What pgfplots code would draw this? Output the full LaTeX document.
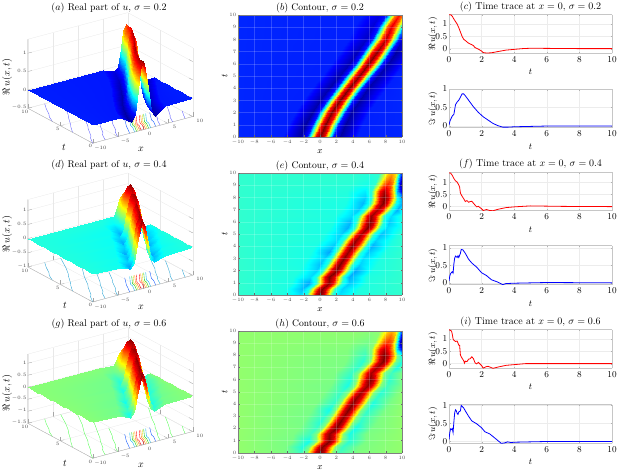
\documentclass[border=0pt]{standalone}
\usepackage{pgfplots}
\usepackage{pgfplotstable}
\pgfplotsset{compat=1.18}

% sigma = 0.2, ridge-following mesh: x t u
\pgfplotstableread{
x t u
-10 0 0
-4.5 0 -.01
-2.4 0 -.2
-1.6 0 -.02
-1 0 .62
-.5 0 1.15
0 0 1.38
.5 0 1.15
1 0 .62
1.6 0 -.02
2.4 0 -.2
4.5 0 -.01
10 0 0
-10 1 0
-3.9 1 -.01
-1.8 1 -.2
-1 1 -.02
-.4 1 .6
.1 1 1.1
.6 1 1.32
1.1 1 1.1
1.6 1 .6
2.2 1 -.02
3 1 -.2
5.1 1 -.01
10 1 0
-10 2 0
-3.1 2 -.01
-1 2 -.19
-.2 2 -.02
.4 2 .58
.9 2 1.08
1.4 2 1.3
1.9 2 1.08
2.4 2 .58
3 2 -.02
3.8 2 -.19
5.9 2 -.01
10 2 0
-10 3 0
-2.05 3 -.01
.05 3 -.18
.85 3 -.02
1.45 3 .6
1.95 3 1.1
2.45 3 1.32
2.95 3 1.1
3.45 3 .6
4.05 3 -.02
4.85 3 -.19
6.95 3 -.01
10 3 0
-10 4 0
-1 4 -.01
1.1 4 -.18
1.9 4 -.02
2.5 4 .58
3 4 1.08
3.5 4 1.3
4 4 1.08
4.5 4 .58
5.1 4 -.02
5.9 4 -.18
8 4 -.01
10 4 0
-10 5 0
.2 5 -.01
2.3 5 -.18
3.1 5 -.02
3.7 5 .56
4.2 5 1.05
4.7 5 1.28
5.2 5 1.05
5.7 5 .56
6.3 5 -.02
7.1 5 -.18
9.2 5 -.01
10 5 0
-10 6 0
1.4 6 -.01
3.5 6 -.17
4.3 6 -.02
4.9 6 .58
5.4 6 1.08
5.9 6 1.3
6.4 6 1.08
6.9 6 .58
7.5 6 -.02
8.3 6 -.18
10 6 -.03
10 6 0
-10 7 0
2.4 7 -.01
4.5 7 -.16
5.3 7 -.02
5.9 7 .58
6.4 7 1.08
6.9 7 1.28
7.4 7 1.08
7.9 7 .58
8.5 7 -.02
9.3 7 -.2
10 7 -.13
10 7 -.13
-10 8 0
3.5 8 -.01
5.6 8 -.14
6.4 8 -.02
7 8 .54
7.5 8 1.02
8 8 1.22
8.5 8 1.02
9 8 .54
9.6 8 -.02
10 8 -.12
10 8 -.12
10 8 -.12
-10 9 0
4.2 9 -.01
6.3 9 -.12
7.1 9 -.02
7.7 9 .52
8.2 9 .97
8.7 9 1.16
9.2 9 .97
9.7 9 .52
10 9 .26
10 9 .26
10 9 .26
10 9 .26
-10 10 0
5.1 10 -.01
7.2 10 -.1
8 10 -.02
8.6 10 .48
9.1 10 .9
9.6 10 1.08
10 10 .95
10 10 .95
10 10 .95
10 10 .95
10 10 .95
10 10 .95
}\dataA

% sigma = 0.4 and 0.6 share the mesh: x t u4 u6
\pgfplotstableread{
x t ua ub
-10 0 0 0
-4.6 0 -.04 -.05
-2.5 0 -.17 -.22
-1.7 0 -.03 -.03
-1.1 0 .62 .62
-.6 0 1.15 1.15
-.1 0 1.38 1.38
.4 0 1.15 1.15
.9 0 .62 .62
1.5 0 -.03 -.03
2.3 0 -.17 -.2
4.4 0 -.04 -.05
10 0 0 0
-10 .5 0 0
-4.25 .5 -.04 -.06
-2.15 .5 -.25 -.3
-1.35 .5 -.03 -.05
-.75 .5 .58 .58
-.25 .5 1.08 1.08
.25 .5 1.3 1.3
.75 .5 1.08 1.08
1.25 .5 .58 .58
1.85 .5 -.03 -.05
2.65 .5 -.2 -.24
4.75 .5 -.04 -.06
10 .5 0 0
-10 1 0 0
-3.4 1 -.05 -.07
-1.3 1 -.3 -.34
-.5 1 -.03 -.05
.1 1 .56 .58
.6 1 1.05 1.08
1.1 1 1.25 1.3
1.6 1 1.05 1.08
2.1 1 .56 .58
2.7 1 -.03 -.05
3.5 1 -.22 -.28
5.6 1 -.04 -.06
10 1 0 0
-10 1.5 0 0
-3.35 1.5 -.04 -.06
-1.25 1.5 -.18 -.22
-.45 1.5 -.03 -.05
.15 1.5 .58 .56
.65 1.5 1.08 1.05
1.15 1.5 1.3 1.25
1.65 1.5 1.08 1.05
2.15 1.5 .58 .56
2.75 1.5 -.03 -.05
3.55 1.5 -.28 -.32
5.65 1.5 -.04 -.06
10 1.5 0 0
-10 2 0 0
-2.6 2 -.04 -.06
-.5 2 -.2 -.24
.3 2 -.03 -.05
.9 2 .58 .58
1.4 2 1.08 1.08
1.9 2 1.3 1.3
2.4 2 1.08 1.08
2.9 2 .58 .58
3.5 2 -.03 -.05
4.3 2 -.3 -.34
6.4 2 -.05 -.07
10 2 0 0
-10 2.5 0 0
-2.05 2.5 -.05 -.07
.05 2.5 -.24 -.28
.85 2.5 -.03 -.05
1.45 2.5 .58 .58
1.95 2.5 1.08 1.08
2.45 2.5 1.3 1.3
2.95 2.5 1.08 1.08
3.45 2.5 .58 .58
4.05 2.5 -.03 -.05
4.85 2.5 -.2 -.26
6.95 2.5 -.04 -.06
10 2.5 0 0
-10 3 0 0
-1.6 3 -.05 -.07
.5 3 -.2 -.26
1.3 3 -.03 -.05
1.9 3 .57 .56
2.4 3 1.07 1.05
2.9 3 1.28 1.25
3.4 3 1.07 1.05
3.9 3 .57 .56
4.5 3 -.03 -.05
5.3 3 -.18 -.24
7.4 3 -.04 -.06
10 3 0 0
-10 3.5 0 0
-1.05 3.5 -.05 -.07
1.05 3.5 -.3 -.34
1.85 3.5 -.03 -.05
2.45 3.5 .56 .58
2.95 3.5 1.05 1.08
3.45 3.5 1.25 1.3
3.95 3.5 1.05 1.08
4.45 3.5 .56 .58
5.05 3.5 -.03 -.05
5.85 3.5 -.22 -.26
7.95 3.5 -.04 -.06
10 3.5 0 0
-10 4 0 0
-.55 4 -.05 -.06
1.55 4 -.22 -.26
2.35 4 -.03 -.05
2.95 4 .58 .58
3.45 4 1.08 1.08
3.95 4 1.3 1.3
4.45 4 1.08 1.08
4.95 4 .58 .58
5.55 4 -.03 -.05
6.35 4 -.28 -.32
8.45 4 -.05 -.07
10 4 0 0
-10 4.5 0 0
-.05 4.5 -.04 -.06
2.05 4.5 -.18 -.24
2.85 4.5 -.03 -.05
3.45 4.5 .56 .56
3.95 4.5 1.05 1.05
4.45 4.5 1.25 1.25
4.95 4.5 1.05 1.05
5.45 4.5 .56 .56
6.05 4.5 -.03 -.05
6.85 4.5 -.2 -.26
8.95 4.5 -.04 -.06
10 4.5 0 0
-10 5 0 0
.5 5 -.05 -.06
2.6 5 -.2 -.24
3.4 5 -.03 -.05
4 5 .54 .54
4.5 5 1.01 1.01
5 5 1.2 1.2
5.5 5 1.01 1.01
6 5 .54 .54
6.6 5 -.03 -.05
7.4 5 -.24 -.28
9.5 5 -.04 -.05
10 5 0 0
-10 5.5 0 0
1.25 5.5 -.05 -.07
3.35 5.5 -.28 -.32
4.15 5.5 -.03 -.05
4.75 5.5 .58 .56
5.25 5.5 1.08 1.05
5.75 5.5 1.3 1.25
6.25 5.5 1.08 1.05
6.75 5.5 .58 .56
7.35 5.5 -.03 -.05
8.15 5.5 -.18 -.22
10 5.5 -.04 -.05
10 5.5 0 0
-10 6 0 0
1.55 6 -.05 -.06
3.65 6 -.26 -.3
4.45 6 -.03 -.05
5.05 6 .6 .6
5.55 6 1.11 1.11
6.05 6 1.32 1.32
6.55 6 1.11 1.11
7.05 6 .6 .6
7.65 6 -.03 -.05
8.45 6 -.22 -.26
10 6 -.04 -.05
10 6 0 0
-10 6.5 0 0
1.7 6.5 -.04 -.06
3.8 6.5 -.18 -.24
4.6 6.5 -.03 -.05
5.2 6.5 .56 .54
5.7 6.5 1.05 1.01
6.2 6.5 1.25 1.2
6.7 6.5 1.05 1.01
7.2 6.5 .56 .54
7.8 6.5 -.03 -.05
8.6 6.5 -.18 -.22
10 6.5 -.03 -.05
10 6.5 0 0
-10 7 0 0
2.5 7 -.05 -.06
4.6 7 -.22 -.26
5.4 7 -.03 -.05
6 7 .54 .54
6.5 7 1.01 1.01
7 7 1.2 1.2
7.5 7 1.01 1.01
8 7 .54 .54
8.6 7 -.03 -.06
9.4 7 -.28 -.34
10 7 -.1 -.12
10 7 -.1 -.12
-10 7.5 0 0
3.15 7.5 -.05 -.06
5.25 7.5 -.26 -.28
6.05 7.5 -.03 -.05
6.65 7.5 .58 .58
7.15 7.5 1.09 1.09
7.65 7.5 1.3 1.3
8.15 7.5 1.09 1.09
8.65 7.5 .58 .58
9.25 7.5 -.05 -.08
10 7.5 -.28 -.3
10 7.5 -.28 -.3
10 7.5 -.28 -.3
-10 8 0 0
3.35 8 -.04 -.05
5.45 8 -.2 -.22
6.25 8 -.03 -.05
6.85 8 .6 .6
7.35 8 1.13 1.12
7.85 8 1.35 1.33
8.35 8 1.13 1.12
8.85 8 .6 .6
9.45 8 -.1 -.1
10 8 -.36 -.36
10 8 -.36 -.36
10 8 -.36 -.36
-10 8.5 0 0
3.35 8.5 -.03 -.04
5.45 8.5 -.14 -.16
6.25 8.5 -.02 -.04
6.85 8.5 .54 .52
7.35 8.5 1.01 .96
7.85 8.5 1.2 1.15
8.35 8.5 1.01 .96
8.85 8.5 .54 .45
9.45 8.5 -.3 -.5
10 8.5 -.8 -1.15
10 8.5 -.8 -1.15
10 8.5 -.8 -1.15
-10 9 0 0
3.65 9 -.02 -.03
5.75 9 -.06 -.08
6.55 9 -.01 -.02
7.15 9 .43 .38
7.65 9 .8 .71
8.15 9 .95 .85
8.65 9 .8 .71
9.15 9 .2 .1
9.75 9 -.75 -1.2
10 9 -.95 -1.4
10 9 -.95 -1.4
10 9 -.95 -1.4
-10 9.5 0 0
4 9.5 -.01 -.02
6.1 9.5 -.04 -.05
6.9 9.5 -.01 -.02
7.5 9.5 .36 .31
8 9.5 .67 .59
8.5 9.5 .8 .7
9 9.5 .6 .5
9.5 9.5 -.2 -.35
10 9.5 -.9 -1.35
10 9.5 -.9 -1.35
10 9.5 -.9 -1.35
10 9.5 -.9 -1.35
-10 10 0 0
4.3 10 -.01 -.01
6.4 10 -.02 -.03
7.2 10 0 -.01
7.8 10 .29 .22
8.3 10 .55 .42
8.8 10 .65 .5
9.3 10 .5 .35
9.8 10 -.3 -.5
10 10 -.7 -1.1
10 10 -.7 -1.1
10 10 -.7 -1.1
10 10 -.7 -1.1
}\dataB

% contour lines on the floor of the 3D panels: #1 floor height, #2 colour
\newcommand{\floorlines}[2]{
\addplot3[#2] coordinates {(-10,6.2,#1)(-9.2,7.3,#1)(-8.6,7.8,#1)(-7.6,9,#1)(-6.6,10,#1)};
\addplot3[#2] coordinates {(-10,3.1,#1)(-8.8,4.3,#1)(-8.3,4.7,#1)(-7,6,#1)(-6.2,6.7,#1)(-5,8,#1)(-3.4,10,#1)};
\addplot3[#2] coordinates {(-10,0,#1)(-9,1.1,#1)(-8.4,1.5,#1)(-7,3,#1)(-6.3,3.6,#1)(-4.9,5.2,#1)(-3,7,#1)(-.4,10,#1)};
\addplot3[#2] coordinates {(-7.5,0,#1)(-6.6,1.1,#1)(-6,1.5,#1)(-4.7,2.9,#1)(-4,3.5,#1)(-2.6,5,#1)(-.7,7,#1)(2.1,10,#1)};
\addplot3[#2] coordinates {(-5,0,#1)(-4.2,1,#1)(-3.6,1.4,#1)(-2.4,2.8,#1)(-1.8,3.3,#1)(-.3,5,#1)};
\addplot3[#2] coordinates {(3.5,0,#1)(4.3,1,#1)(4.8,1.4,#1)(6,2.7,#1)(6.6,3.2,#1)(7.8,4.6,#1)(10,6.8,#1)};
\addplot3[#2] coordinates {(6,0,#1)(6.8,1,#1)(7.3,1.4,#1)(8.5,2.6,#1)(10,4.2,#1)};
\addplot3[#2] coordinates {(8.5,0,#1)(9.2,.8,#1)(10,1.6,#1)};
\addplot3[blue!70!cyan] coordinates {(-2.6,0,#1)(-1.7,1,#1)(-1.3,1.5,#1)(.3,3,#1)};
\addplot3[cyan] coordinates {(-1.6,0,#1)(-.7,1,#1)(-.5,1.5,#1)(1.3,3,#1)};
\addplot3[green!80!black] coordinates {(-1.2,0,#1)(-.3,1,#1)(-.1,1.5,#1)(1.7,3,#1)};
\addplot3[yellow!90!black] coordinates {(-.9,0,#1)(0,1,#1)(.2,1.5,#1)(2,3,#1)};
\addplot3[orange] coordinates {(-.6,0,#1)(.3,1,#1)(.5,1.5,#1)(2.3,3,#1)};
\addplot3[red] coordinates {(-.3,0,#1)(.6,1,#1)(.8,1.5,#1)(2.6,3,#1)};
\addplot3[red] coordinates {(.3,0,#1)(1.2,1,#1)(1.4,1.5,#1)(3.2,3,#1)};
\addplot3[orange] coordinates {(.6,0,#1)(1.5,1,#1)(1.7,1.5,#1)(3.5,3,#1)};
\addplot3[yellow!90!black] coordinates {(.9,0,#1)(1.8,1,#1)(2,1.5,#1)(3.8,3,#1)};
\addplot3[green!80!black] coordinates {(1.2,0,#1)(2.1,1,#1)(2.3,1.5,#1)(4.1,3,#1)};
\addplot3[cyan] coordinates {(1.6,0,#1)(2.5,1,#1)(2.7,1.5,#1)(4.5,3,#1)};
\addplot3[blue!70!cyan] coordinates {(2.6,0,#1)(3.5,1,#1)(3.7,1.5,#1)(5.3,3,#1)};
}

% the three edges that stand out on the 3D panels: #1 floor height
\newcommand{\frontedges}[1]{
\draw[gray!70, line width=.5pt] (axis cs:-10,10,1.38) -- (axis cs:-10,10,#1) -- (axis cs:-10,0,#1) -- (axis cs:10,0,#1);
}

\pgfplotsset{
  surfthree/.style={
    x={(5pt,1.333pt)}, y={(-6.5pt,3.5pt)},
    anchor=south west,
    xmin=-10, xmax=10, ymin=0, ymax=10, zmax=1.38,
    xtick={-10,-5,0,5,10}, ytick={0,5,10},
    grid=major, grid style={gray!18, line width=.3pt},
    separate axis lines, axis line style={gray!18, line width=.3pt},
    tickpos=left,
    tick style={gray!70, line width=.3pt},
    tick label style={font=\fontsize{5.5}{6}\selectfont, text=black!75, inner sep=1pt},
    xticklabel style={xshift=5pt, yshift=-.5pt},
    colormap/jet,
    every axis plot/.append style={line width=.35pt},
  },
  heat/.style={
    anchor=south west, width=164pt, height=122pt, scale only axis,
    xmin=-10, xmax=10, ymin=0, ymax=10,
    xtick={-10,-8,...,10}, ytick={0,1,...,10},
    view={0}{90}, axis on top, colormap/jet,
    grid=major, grid style={white, opacity=.18, line width=.3pt},
    separate axis lines, axis line style={black!50, line width=.3pt},
    tick style={black!60, line width=.2pt}, tick align=inside,
    major tick length=1.5pt,
    tick label style={font=\fontsize{5.5}{6}\selectfont, text=black!70, inner sep=1.5pt},
    xticklabel style={yshift=-1.5pt},
    xlabel={$x$}, ylabel={$t$},
    label style={font=\fontsize{9}{10}\selectfont},
    xlabel style={yshift=-.5pt}, ylabel style={yshift=-3pt},
    title style={font=\fontsize{9.6}{11}\selectfont, yshift=-7.5pt},
  },
  trace/.style={
    anchor=south west, width=163pt, height=38.6pt, scale only axis,
    xmin=0, xmax=10, xtick={0,2,...,10},
    grid=major, grid style={gray!15, line width=.3pt},
    separate axis lines, axis line style={gray!45, line width=1pt},
    tick style={gray!60, line width=.2pt}, major tick length=1.5pt,
    tick align=inside,
    tick label style={font=\fontsize{9}{9}\selectfont, inner sep=1.5pt},
    xticklabel style={yshift=-1.5pt},
    label style={font=\fontsize{9}{10}\selectfont},
    xlabel={$t$}, xlabel style={yshift=-2pt}, ylabel style={yshift=-7pt},
    title style={font=\fontsize{10}{11}\selectfont, yshift=-6.5pt},
    every axis plot/.append style={line width=.8pt, no marks},
  },
}

\begin{document}
\begin{tikzpicture}[x=1pt,y=1pt]
\path[use as bounding box] (0,0) rectangle (617,473);

% ---------- left column
\begin{axis}[surfthree, at={(27.7pt,329.7pt)}, z={(0pt,36.7pt)}, zmin=-.5,
  ztick={-.5,0,.5,1}, point meta min=-.25, point meta max=1.38]
\floorlines{-.5}{blue!65!white}
\frontedges{-.5}
\addplot3[surf, shader=interp, z buffer=sort, mesh/rows=11] table[x=x,y=t,z=u] {\dataA};
\end{axis}
\node[font=\fontsize{9.8}{11}\selectfont] at (109,465) {$(a)$ Real part of $u$, $\sigma=0.2$};
\node[font=\fontsize{10}{11}\selectfont] at (141,324) {$x$};
\node[font=\fontsize{10}{11}\selectfont] at (64,326) {$t$};
\node[rotate=90,font=\fontsize{10}{11}\selectfont] at (7,396) {$\Re\, u(x,t)$};

\begin{axis}[surfthree, at={(27.7pt,171pt)}, z={(0pt,28.3pt)}, zmin=-1,
  ztick={-1,-.5,0,.5,1}, point meta min=-.95, point meta max=1.38]
\floorlines{-1}{cyan!85!black}
\frontedges{-1}
\addplot3[surf, shader=interp, z buffer=sort, mesh/rows=21] table[x=x,y=t,z=ua] {\dataB};
\end{axis}
\node[font=\fontsize{9.8}{11}\selectfont] at (109,308) {$(d)$ Real part of $u$, $\sigma=0.4$};
\node[font=\fontsize{10}{11}\selectfont] at (141,166) {$x$};
\node[font=\fontsize{10}{11}\selectfont] at (65,168) {$t$};
\node[rotate=90,font=\fontsize{10}{11}\selectfont] at (7,239) {$\Re\, u(x,t)$};

\begin{axis}[surfthree, at={(27.7pt,14.7pt)}, z={(0pt,24pt)}, zmin=-1.5,
  ztick={-1.5,-1,-.5,0,.5,1}, point meta min=-1.4, point meta max=1.35]
\floorlines{-1.5}{green!70!white}
\frontedges{-1.5}
\addplot3[surf, shader=interp, z buffer=sort, mesh/rows=21] table[x=x,y=t,z=ub] {\dataB};
\end{axis}
\node[font=\fontsize{9.8}{11}\selectfont] at (109,149) {$(g)$ Real part of $u$, $\sigma=0.6$};
\node[font=\fontsize{10}{11}\selectfont] at (141,8) {$x$};
\node[font=\fontsize{10}{11}\selectfont] at (65,10) {$t$};
\node[rotate=90,font=\fontsize{10}{11}\selectfont] at (7,80) {$\Re\, u(x,t)$};

% ---------- middle column
\begin{axis}[heat, at={(238pt,336pt)}, title={$(b)$ Contour, $\sigma=0.2$}, point meta min=-.25, point meta max=1.3]
\addplot3[surf, shader=interp, mesh/rows=11] table[x=x,y=t,z=u] {\dataA};
\end{axis}
\begin{axis}[heat, at={(238pt,178pt)}, title={$(e)$ Contour, $\sigma=0.4$}, point meta min=-.95, point meta max=1.3]
\addplot3[surf, shader=interp, mesh/rows=21] table[x=x,y=t,z=ua] {\dataB};
\end{axis}
\begin{axis}[heat, at={(238pt,20.3pt)}, title={$(h)$ Contour, $\sigma=0.6$}, point meta min=-1.4, point meta max=1.3]
\addplot3[surf, shader=interp, mesh/rows=21] table[x=x,y=t,z=ub] {\dataB};
\end{axis}

% ---------- right column
\begin{axis}[trace, at={(449pt,419.7pt)}, title={$(c)$ Time trace at $x=0$, $\sigma=0.2$},
  ymin=-.19, ymax=1.38, ytick={0,.5,1}, ylabel={$\Re\, u(x,t)$}]
\addplot[red] coordinates {(0,1.38)(.1,1.38)(.2,1.32)(.3,1.2)(.4,1.1)(.5,1)(.6,.85)(.7,.68)(.8,.5)(.9,.38)(1,.33)(1.2,.22)(1.4,.16)(1.5,.12)(1.6,.04)(1.8,-.02)(2,-.1)(2.1,-.16)(2.3,-.18)(2.6,-.17)(3,-.12)(3.5,-.06)(4,-.03)(4.5,0)(5,.015)(6,.01)(7,.005)(8,0)(10,0)};
\end{axis}
\begin{axis}[trace, at={(449pt,345.3pt)}, ymin=-.045, ymax=1, ytick={0,.5,1}, ylabel={$\Im\, u(x,t)$}]
\addplot[blue] coordinates {(0,.03)(.05,.12)(.1,.18)(.2,.27)(.3,.32)(.35,.45)(.4,.58)(.5,.65)(.6,.7)(.7,.78)(.8,.87)(.9,.87)(1,.82)(1.2,.7)(1.5,.52)(1.8,.37)(2.1,.25)(2.4,.16)(2.7,.07)(3,.01)(3.3,-.03)(3.6,-.03)(4,-.02)(5,-.01)(6,0)(10,0)};
\end{axis}
\begin{axis}[trace, at={(449pt,262pt)}, title={$(f)$ Time trace at $x=0$, $\sigma=0.4$},
  ymin=-.19, ymax=1.4, ytick={0,.5,1}, ylabel={$\Re\, u(x,t)$}]
\addplot[red] coordinates {(0,1.38)(.1,1.37)(.2,1.28)(.3,1.15)(.4,1.05)(.5,1)(.6,.88)(.65,.8)(.7,.55)(.8,.42)(.9,.32)(1,.2)(1.1,.24)(1.2,.17)(1.3,.2)(1.4,.21)(1.5,.13)(1.6,.05)(1.7,-.02)(1.8,0)(2,-.1)(2.1,-.17)(2.3,-.13)(2.5,-.17)(2.7,-.18)(3,-.12)(3.5,-.05)(4,-.02)(5,.02)(6,.01)(7,0)(10,-.01)};
\end{axis}
\begin{axis}[trace, at={(449pt,188.4pt)}, ymin=-.05, ymax=1.06, ytick={0,.5,1}, ylabel={$\Im\, u(x,t)$}]
\addplot[blue] coordinates {(0,.05)(.05,.2)(.1,.27)(.2,.32)(.25,.28)(.3,.55)(.35,.72)(.4,.77)(.5,.73)(.55,.78)(.6,.73)(.7,.85)(.75,.96)(.85,.95)(1,.85)(1.2,.68)(1.4,.57)(1.7,.45)(2,.29)(2.3,.21)(2.6,.09)(3,.02)(3.3,-.05)(3.5,-.02)(4,-.01)(5,0)(6,.01)(10,0)};
\end{axis}
\begin{axis}[trace, at={(449pt,104.7pt)}, title={$(i)$ Time trace at $x=0$, $\sigma=0.6$},
  ymin=-.19, ymax=1.38, ytick={0,.5,1}, ylabel={$\Re\, u(x,t)$}]
\addplot[red] coordinates {(0,1.38)(.15,1.33)(.2,1.2)(.25,1)(.3,.95)(.4,.9)(.5,.92)(.6,.75)(.65,.75)(.7,.35)(.8,.22)(.9,.12)(.95,.02)(1,.1)(1.1,.08)(1.2,.18)(1.3,.2)(1.4,.28)(1.5,.2)(1.6,.03)(1.7,-.01)(1.8,.05)(2,-.08)(2.1,-.18)(2.3,-.12)(2.4,-.11)(2.7,-.19)(3,-.14)(3.5,-.07)(4,-.04)(4.7,0)(6,0)(10,0)};
\end{axis}
\begin{axis}[trace, at={(449pt,29.7pt)}, ymin=-.05, ymax=1.02, ytick={0,.5,1}, ylabel={$\Im\, u(x,t)$}]
\addplot[blue] coordinates {(0,.05)(.05,.25)(.1,.35)(.15,.33)(.2,.36)(.25,.25)(.3,.55)(.35,.8)(.4,.88)(.45,.85)(.5,.78)(.55,.75)(.6,.82)(.7,.85)(.75,1)(.9,.93)(1,.85)(1.2,.7)(1.4,.57)(1.7,.49)(2,.38)(2.2,.27)(2.5,.21)(2.8,.1)(3.2,-.05)(3.4,-.04)(3.6,-.01)(3.8,-.03)(4,-.02)(5,-.01)(6,0)(10,0)};
\end{axis}
\end{tikzpicture}
\end{document}
